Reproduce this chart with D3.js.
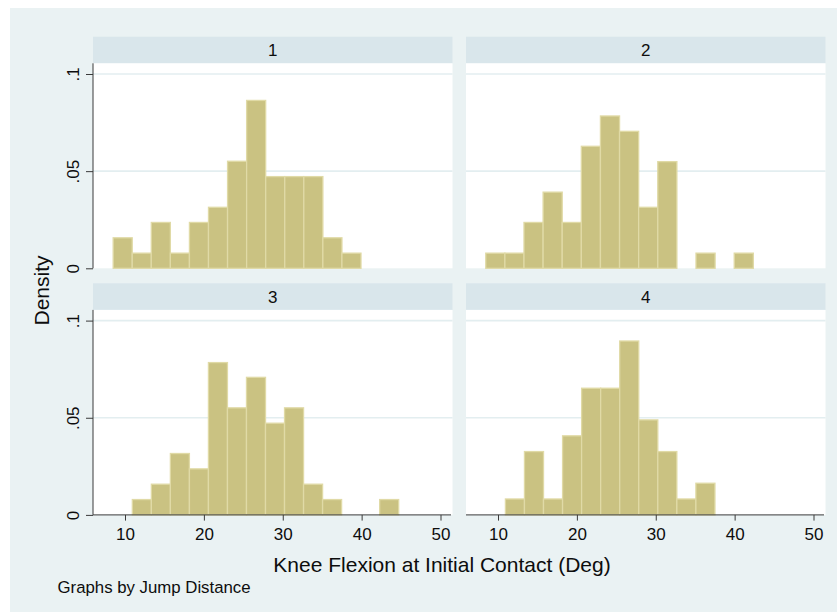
<!DOCTYPE html>
<html>
<head>
<meta charset="utf-8">
<script src="https://cdn.jsdelivr.net/npm/d3@7"></script>
<style>
  html, body { margin: 0; padding: 0; background: #ffffff; }
  svg { display: block; font-family: "Liberation Sans", Arial, sans-serif; }
</style>
</head>
<body>
<svg id="chart" width="837" height="612"></svg>
<script>
// Histogram panels, one per jump distance group
const panelLabels = ["1", "2", "3", "4"];

// Lower edge of the first bin and bin width for each group (degrees)
const binStarts = [8.5, 8.45, 10.93, 10.94];
const binWidths = [2.417, 2.423, 2.412, 2.415];

// Density of each bin, per group
const density1 = [0.0157, 0.0078, 0.0236, 0.0078, 0.0236, 0.0314, 0.0551, 0.0864, 0.0472, 0.0472, 0.0472, 0.0157, 0.0078];
const density2 = [0.0078, 0.0078, 0.0236, 0.0392, 0.0236, 0.0628, 0.0784, 0.0705, 0.0314, 0.0549, 0, 0.0078, 0, 0.0078];
const density3 = [0.0079, 0.0158, 0.0316, 0.0237, 0.0784, 0.0551, 0.0708, 0.0472, 0.0551, 0.0158, 0.0079, 0, 0, 0.0079];
const density4 = [0.0082, 0.0326, 0.0082, 0.0407, 0.0652, 0.0652, 0.0895, 0.0489, 0.0326, 0.0082, 0.0163];
const densities = [density1, density2, density3, density4];

// Axis ticks
const xTicks = [10, 20, 30, 40, 50];
const yTicks = [0, 0.05, 0.1];
const yTickLabels = ["0", ".05", ".1"];

const xTitle = "Knee Flexion at Initial Contact (Deg)";
const yTitle = "Density";
const note = "Graphs by Jump Distance";

// ---- layout ----
const W = 837, H = 612;
const panelW = 359.5, stripH = 26.6, plotH = 205;
const colX = [93, 466];
const rowY = [36.7, 283.3];
const smallFont = 17;

const colors = {
  page: "#eaf2f3",
  strip: "#d9e6eb",
  plot: "#ffffff",
  grid: "#e3eef0",
  barFill: "#cac282",
  barStroke: "#e0daa6",
  axis: "#3a3a3a",
  text: "#0d0d0d"
};

const svg = d3.select("#chart");

svg.append("rect")
  .attr("x", 10).attr("y", 8)
  .attr("width", W - 10).attr("height", H - 8)
  .attr("fill", colors.page);

const x = d3.scaleLinear().domain([10, 50]).range([32, 347.5]);
const y = d3.scaleLinear().domain([0, 0.1]).range([plotH, 10.7]);

panelLabels.forEach((label, i) => {
  const col = i % 2, row = Math.floor(i / 2);
  const g = svg.append("g")
    .attr("transform", `translate(${colX[col]},${rowY[row]})`);

  // strip header
  g.append("rect")
    .attr("x", 0).attr("y", 0)
    .attr("width", panelW).attr("height", stripH)
    .attr("fill", colors.strip);
  g.append("text")
    .attr("x", panelW / 2).attr("y", stripH / 2 + 6)
    .attr("text-anchor", "middle")
    .attr("font-size", smallFont)
    .attr("fill", colors.text)
    .text(label);

  const p = g.append("g").attr("transform", `translate(0,${stripH})`);

  p.append("rect")
    .attr("x", 0).attr("y", 0)
    .attr("width", panelW).attr("height", plotH)
    .attr("fill", colors.plot);

  // horizontal grid lines
  p.selectAll("line.grid")
    .data(yTicks.filter(d => d > 0))
    .join("line")
    .attr("class", "grid")
    .attr("x1", 0).attr("x2", panelW)
    .attr("y1", d => y(d)).attr("y2", d => y(d))
    .attr("stroke", colors.grid)
    .attr("stroke-width", 1.6);

  // histogram bars
  const bins = densities[i].map((v, k) => ({
    x0: binStarts[i] + k * binWidths[i],
    x1: binStarts[i] + (k + 1) * binWidths[i],
    v
  })).filter(b => b.v > 0);

  p.selectAll("rect.bar")
    .data(bins)
    .join("rect")
    .attr("class", "bar")
    .attr("x", b => x(b.x0))
    .attr("width", b => x(b.x1) - x(b.x0))
    .attr("y", b => y(b.v))
    .attr("height", b => y(0) - y(b.v))
    .attr("fill", colors.barFill)
    .attr("stroke", colors.barStroke)
    .attr("stroke-width", 1.3);

  // y axis on the left column
  if (col === 0) {
    const ya = p.append("g")
      .call(d3.axisLeft(y).tickValues(yTicks).tickSize(7)
        .tickFormat((d, k) => yTickLabels[k]));
    ya.select(".domain")
      .attr("d", `M0,0V${plotH}`)
      .attr("stroke", colors.axis);
    ya.selectAll(".tick line").attr("stroke", colors.axis);
    ya.selectAll(".tick text")
      .attr("font-size", smallFont)
      .attr("font-family", "Liberation Sans, Arial, sans-serif")
      .attr("fill", colors.text)
      .attr("transform", "rotate(-90)")
      .attr("text-anchor", "middle")
      .attr("x", 0)
      .attr("y", -13.8)
      .attr("dy", null);
  }

  // x axis on the bottom row
  if (row === 1) {
    const xa = p.append("g")
      .attr("transform", `translate(0,${plotH})`)
      .call(d3.axisBottom(x).tickValues(xTicks).tickSize(5.7).tickFormat(d3.format("d")));
    xa.select(".domain")
      .attr("d", `M0,0H${panelW - 1.5}`)
      .attr("stroke", colors.axis);
    xa.selectAll(".tick line").attr("stroke", colors.axis);
    xa.selectAll(".tick text")
      .attr("font-size", smallFont)
      .attr("font-family", "Liberation Sans, Arial, sans-serif")
      .attr("fill", colors.text)
      .attr("y", 25.5)
      .attr("dy", null);
  }
});

// axis titles and note
svg.append("text")
  .attr("x", 442).attr("y", 571.5)
  .attr("text-anchor", "middle")
  .attr("font-size", 21)
  .attr("fill", colors.text)
  .text(xTitle);

svg.append("text")
  .attr("transform", "translate(49.3,290.5) rotate(-90)")
  .attr("text-anchor", "middle")
  .attr("font-size", 21)
  .attr("fill", colors.text)
  .text(yTitle);

svg.append("text")
  .attr("x", 57.5).attr("y", 593.3)
  .attr("font-size", 16.8)
  .attr("fill", colors.text)
  .text(note);
</script>
</body>
</html>
